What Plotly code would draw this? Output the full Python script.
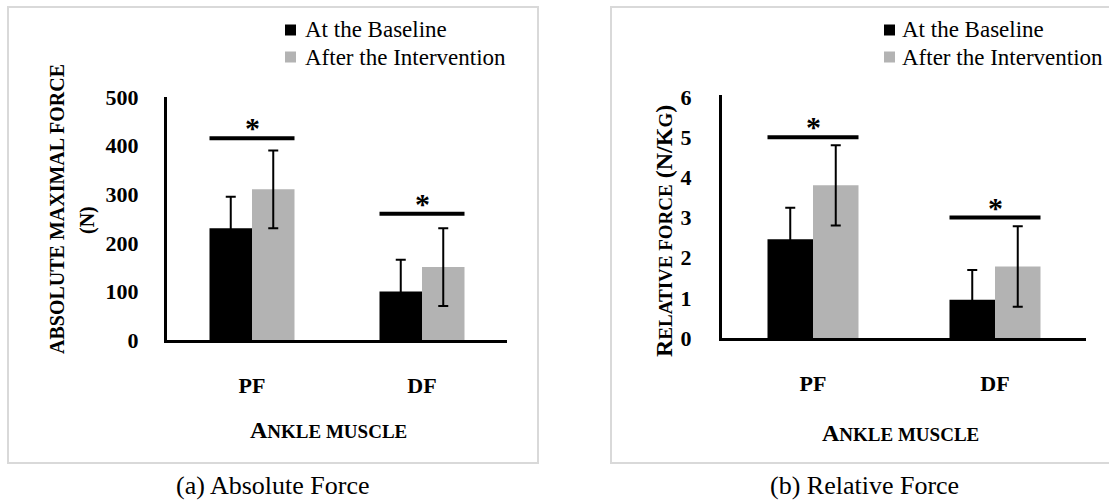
import plotly.graph_objects as go

# ---------------- data ----------------
categories = ["PF", "DF"]
series_names = ["At the Baseline", "After the Intervention"]

abs_baseline = [230, 100]
abs_baseline_err = [65, 65]
abs_after = [310, 150]
abs_after_err = [80, 80]
abs_sig = [415, 260]          # height of significance bars

rel_baseline = [2.46, 0.95]
rel_baseline_err = [0.78, 0.74]
rel_after = [3.80, 1.78]
rel_after_err = [1.0, 1.0]
rel_sig = [5.0, 3.0]

abs_ticks = [0, 100, 200, 300, 400, 500]
rel_ticks = [0, 1, 2, 3, 4, 5, 6]

colors = ["#000000", "#b3b3b3"]

# ---------------- layout helpers ----------------
W, H = 1109, 502
SERIF = "Liberation Serif"


def px(x):
    return x / W


def py(y):
    return 1 - y / H


fig = go.Figure()

panels = [
    dict(xa="x", ya="y", base=abs_baseline, base_err=abs_baseline_err,
         after=abs_after, after_err=abs_after_err, sig=abs_sig),
    dict(xa="x2", ya="y2", base=rel_baseline, base_err=rel_baseline_err,
         after=rel_after, after_err=rel_after_err, sig=rel_sig),
]

for p in panels:
    for name, vals, errs, col in [
        (series_names[0], p["base"], p["base_err"], colors[0]),
        (series_names[1], p["after"], p["after_err"], colors[1]),
    ]:
        fig.add_trace(go.Bar(
            x=categories, y=vals, name=name, xaxis=p["xa"], yaxis=p["ya"],
            marker=dict(color=col, line=dict(width=0)),
            error_y=dict(type="data", array=errs, visible=True,
                         color="#000000", thickness=2, width=5),
            showlegend=False,
        ))
    # significance bars + asterisks
    for i, h in enumerate(p["sig"]):
        fig.add_shape(type="line", xref=p["xa"], yref=p["ya"],
                      x0=i - 0.25, x1=i + 0.25, y0=h, y1=h,
                      line=dict(color="#000000", width=4))
        fig.add_annotation(x=i, y=h, xref=p["xa"], yref=p["ya"], text="<b>*</b>",
                           showarrow=False, yanchor="bottom", yshift=-8,
                           font=dict(family=SERIF, size=30, color="#000000"))

axis_common = dict(showgrid=False, zeroline=False, showline=True,
                   linecolor="#000000", linewidth=3, ticks="", fixedrange=True,
                   automargin=False)
tickfont = dict(family=SERIF, size=22, color="#000000", weight="bold")

fig.update_layout(
    width=W, height=H,
    margin=dict(l=0, r=0, t=0, b=0, autoexpand=False),
    paper_bgcolor="white", plot_bgcolor="white",
    barmode="group", bargap=0.5, bargroupgap=0,
    showlegend=False,
    xaxis=dict(domain=[px(167), px(507)], anchor="y", type="category",
               categoryorder="array", categoryarray=categories,
               range=[-0.5, 1.5], tickfont=tickfont, ticklabelstandoff=24,
               **axis_common),
    yaxis=dict(domain=[py(340), py(97)], anchor="x", range=[0, 500],
               tickvals=abs_ticks, tickfont=tickfont, ticklabelstandoff=21,
               **axis_common),
    xaxis2=dict(domain=[px(722), px(1086)], anchor="y2", type="category",
                categoryorder="array", categoryarray=categories,
                range=[-0.5, 1.5], tickfont=tickfont, ticklabelstandoff=24,
                **axis_common),
    yaxis2=dict(domain=[py(338), py(95)], anchor="x2", range=[0, 6.05],
                tickvals=rel_ticks, tickfont=tickfont, ticklabelstandoff=23,
                **axis_common),
)

# ---------------- panel frames ----------------
for x0, x1 in [(8, 538), (611, 1120)]:
    fig.add_shape(type="rect", xref="paper", yref="paper",
                  x0=px(x0), x1=px(x1), y0=py(463), y1=py(7),
                  line=dict(color="#d9d9d9", width=2), layer="below")

# ---------------- legends ----------------
for sq_x, txt_x in [(285, 303), (884, 900)]:
    for k, (name, col) in enumerate(zip(series_names, colors)):
        yc = 30 + 27 * k
        fig.add_shape(type="rect", xref="paper", yref="paper",
                      x0=px(sq_x), x1=px(sq_x + 11), y0=py(yc + 5.5), y1=py(yc - 5.5),
                      fillcolor=col, line=dict(width=0))
        fig.add_annotation(x=px(txt_x), y=py(yc), xref="paper", yref="paper",
                           text=name, showarrow=False, xanchor="left", yanchor="middle",
                           font=dict(family=SERIF, size=23, color="#000000"))

# ---------------- axis titles ----------------
small = 19
xtitle = f"<b>A<span style='font-size:{small}px'>NKLE MUSCLE</span></b>"
for xc, yc in [(328, 430), (900, 433)]:
    fig.add_annotation(x=px(xc), y=py(yc), xref="paper", yref="paper", text=xtitle,
                       showarrow=False, xanchor="center", yanchor="middle",
                       font=dict(family=SERIF, size=24, color="#000000"))

fig.add_annotation(x=px(57), y=py(209), xref="paper", yref="paper",
                   text="<b>ABSOLUTE MAXIMAL FORCE</b>", textangle=-90,
                   showarrow=False, xanchor="center", yanchor="middle",
                   font=dict(family=SERIF, size=20, color="#000000"))
fig.add_annotation(x=px(87), y=py(220), xref="paper", yref="paper",
                   text="<b>(N)</b>", textangle=-90,
                   showarrow=False, xanchor="center", yanchor="middle",
                   font=dict(family=SERIF, size=20, color="#000000"))
rsmall = 19
rtitle = (f"<b>R<span style='font-size:{rsmall}px'>ELATIVE FORCE</span> (N/K"
          f"<span style='font-size:{rsmall}px'>G</span>)</b>")
fig.add_annotation(x=px(664), y=py(231), xref="paper", yref="paper",
                   text=rtitle, textangle=-90,
                   showarrow=False, xanchor="center", yanchor="middle",
                   font=dict(family=SERIF, size=24, color="#000000"))

# ---------------- captions ----------------
for xc, txt in [(273, "(a) Absolute Force"), (864, "(b) Relative Force")]:
    fig.add_annotation(x=px(xc), y=py(485), xref="paper", yref="paper", text=txt,
                       showarrow=False, xanchor="center", yanchor="middle",
                       font=dict(family=SERIF, size=26, color="#000000"))

fig.write_html("out.html", config={"displayModeBar": False},
               post_script="document.body.style.margin='0';")
